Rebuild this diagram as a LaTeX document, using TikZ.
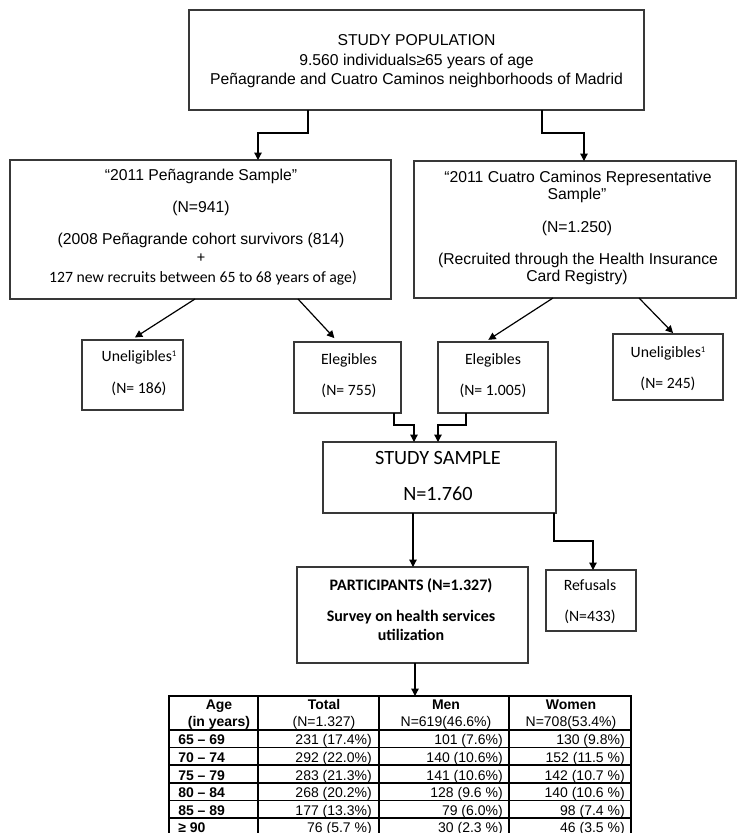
\documentclass[tikz,border=0pt]{standalone}
\usepackage{fontspec}
\setmainfont{Liberation Sans}
\newfontfamily\calfont{Carlito}
\usetikzlibrary{arrows.meta}
\newcommand{\supone}{\raisebox{3.2pt}{\fontsize{6.5}{7}\selectfont 1}}
\begin{document}
\begin{tikzpicture}[x=0.75pt,y=-0.75pt,
  box/.style={draw=black!78, line width=1pt, inner sep=0pt, outer sep=0pt},
  arr/.style={line width=0.9pt, -{Triangle[width=5.5pt,length=5.5pt]}},
  ar/.style={inner sep=0pt, text height=8.4pt, text depth=0pt, font=\fontsize{11.8}{14}\selectfont},
  cb/.style={inner sep=0pt, text height=7.6pt, text depth=0pt, font=\calfont\fontsize{11.8}{14}\selectfont},
  cbb/.style={inner sep=0pt, text height=7.7pt, text depth=0pt, font=\calfont\bfseries\fontsize{12}{14}\selectfont},
  cbig/.style={inner sep=0pt, text height=9.8pt, text depth=0pt, font=\calfont\fontsize{15.2}{18}\selectfont},
  tb/.style={inner sep=0pt, text height=7.5pt, text depth=0pt, font=\fontsize{10.5}{12}\selectfont},
  tbb/.style={tb, font=\bfseries\fontsize{10.5}{12}\selectfont},
  tline/.style={line width=1.1pt, black}
]
\useasboundingbox (0,0) rectangle (737,833);
\clip (0,0) rectangle (737,833);

% boxes
\node[box, minimum width=341.25pt, minimum height=75pt] (top) at (416.5,60) {};
\node[box, minimum width=285.75pt, minimum height=104.25pt] (left) at (200.5,229.5) {};
\node[box, minimum width=241.5pt, minimum height=102.75pt] (right) at (575,229.5) {};
\node[box, minimum width=75.75pt, minimum height=52.5pt] (unel1) at (132.5,375) {};
\node[box, minimum width=80.25pt, minimum height=53.25pt] (eleg1) at (347.5,377.5) {};
\node[box, minimum width=82.5pt, minimum height=53.25pt] (eleg2) at (493,377.5) {};
\node[box, minimum width=82.5pt, minimum height=49.5pt] (unel2) at (668,367) {};
\node[box, minimum width=174.75pt, minimum height=53.25pt] (sample) at (439.5,477.5) {};
\node[box, minimum width=173.25pt, minimum height=72pt] (part) at (412.5,615) {};
\node[box, minimum width=67.5pt, minimum height=45.75pt] (ref) at (591,600.5) {};
\node[draw, tline, inner sep=0pt, outer sep=0pt, minimum width=346.5pt, minimum height=104.6pt] (tab) at (400,765.75) {};

% texts: top
\node[ar] (t1) at (416.5,40) {STUDY POPULATION};
\node[ar] (t2) at (416.5,60) {9.560 individuals≥65 years of age};
\node[ar] (t3) at (416.5,79) {Peñagrande and Cuatro Caminos neighborhoods of Madrid};
% left sample
\node[ar] (l1) at (201,175) {“2011 Peñagrande Sample”};
\node[ar] (l2) at (201,207) {(N=941)};
\node[ar] (l3) at (201,239) {(2008 Peñagrande cohort survivors (814)};
\node[cb] (l4) at (201,257) {+};
\node[cb] (l5) at (203,277) {127 new recruits between 65 to 68 years of age)};
% right sample
\node[ar] (r1) at (578,177) {“2011 Cuatro Caminos Representative};
\node[ar] (r2) at (577,194) {Sample”};
\node[ar] (r3) at (577,227) {(N=1.250)};
\node[ar] (r4) at (578,259) {(Recruited through the Health Insurance};
\node[ar] (r5) at (577,276) {Card Registry)};
% small boxes
\node[cb] (u1a) at (139,356) {Uneligibles\supone};
\node[cb] (u1b) at (139,388) {(N= 186)};
\node[cb] (e1a) at (349,359) {Elegibles};
\node[cb] (e1b) at (349,390) {(N= 755)};
\node[cb] (e2a) at (493,359) {Elegibles};
\node[cb] (e2b) at (493,390) {(N= 1.005)};
\node[cb] (u2a) at (668,352) {Uneligibles\supone};
\node[cb] (u2b) at (668,383) {(N= 245)};
% study sample
\node[cbig] (s1) at (438,458) {STUDY SAMPLE};
\node[cbig] (s2) at (438,494) {N=1.760};
% participants
\node[cbb] (p1) at (411,585) {PARTICIPANTS (N=1.327)};
\node[cbb] (p2) at (411,616) {Survey on health services};
\node[cbb] (p3) at (411,635) {utilization};
% refusals
\node[cb] (f1) at (590,585) {Refusals};
\node[cb] (f2) at (590,616) {(N=433)};

% connectors
\draw[arr] (top.south -| 308,0) |- (258,133) -- (left.north -| 258,0);
\draw[arr] (top.south -| 542,0) |- (584,133) -- (right.north -| 584,0);
\draw[arr, shorten >=3.5pt] (left.south -| 195,0) -- (unel1.north -| 131,0);
\draw[arr, shorten >=4pt] (left.south -| 298,0) -- (eleg1.north -| 338,0);
\draw[arr, shorten >=3pt] (right.south -| 553,0) -- (eleg2.north -| 485,0);
\draw[arr, shorten >=1pt] (right.south -| 639,0) -- (unel2.north -| 674,0);
\draw[arr] (eleg1.south -| 394,0) |- (414,425) -- (sample.north -| 414,0);
\draw[arr] (eleg2.south -| 466,0) |- (438,425) -- (sample.north -| 438,0);
\draw[arr] (sample.south -| 413,0) -- (part.north -| 413,0);
\draw[arr] (sample.south -| 554,0) |- (593,541) -- (ref.north -| 593,0);
\draw[arr] (part.south -| 415,0) -- (tab.north -| 415,0);

% table grid
\foreach \yy in {730,747.5,765,783,800.5,818}
  \draw[tline] (tab.west |- 0,\yy) -- (tab.east |- 0,\yy);
\foreach \xx in {258,379,509}
  \draw[tline] (tab.north -| \xx,0) -- (tab.south -| \xx,0);

% table header
\node[tbb] (h1) at (219,704) {Age};
\node[tbb] (h2) at (219,721) {(in years)};
\node[tbb] (h3) at (324,704) {Total};
\node[tb] (h4) at (324,721) {(N=1.327)};
\node[tbb] (h5) at (446,704) {Men};
\node[tb] (h6) at (446,721) {N=619(46.6\%)};
\node[tbb] (h7) at (571,704) {Women};
\node[tb] (h8) at (571,721) {N=708(53.4\%)};

% table rows
\foreach \yy/\a/\b/\c/\d [count=\i] in {
  739/65 – 69/231 (17.4\%)/101 (7.6\%)/130 (9.8\%),
  757/70 – 74/292 (22.0\%)/140 (10.6\%)/152 (11.5 \%),
  775/75 – 79/283 (21.3\%)/141 (10.6\%)/142 (10.7 \%),
  792/80 – 84/268 (20.2\%)/128 (9.6 \%)/140 (10.6 \%),
  810/85 – 89/177 (13.3\%)/79 (6.0\%)/98 (7.4 \%),
  827/≥ 90/76 (5.7 \%)/30 (2.3 \%)/46 (3.5 \%)}{
  \node[tbb, anchor=west] (ra\i) at (178,\yy) {\a};
  \node[tb, anchor=east] (rb\i) at (372,\yy) {\b};
  \node[tb, anchor=east] (rc\i) at (503,\yy) {\c};
  \node[tb, anchor=east] (rd\i) at (625,\yy) {\d};
}
\end{tikzpicture}
\end{document}
